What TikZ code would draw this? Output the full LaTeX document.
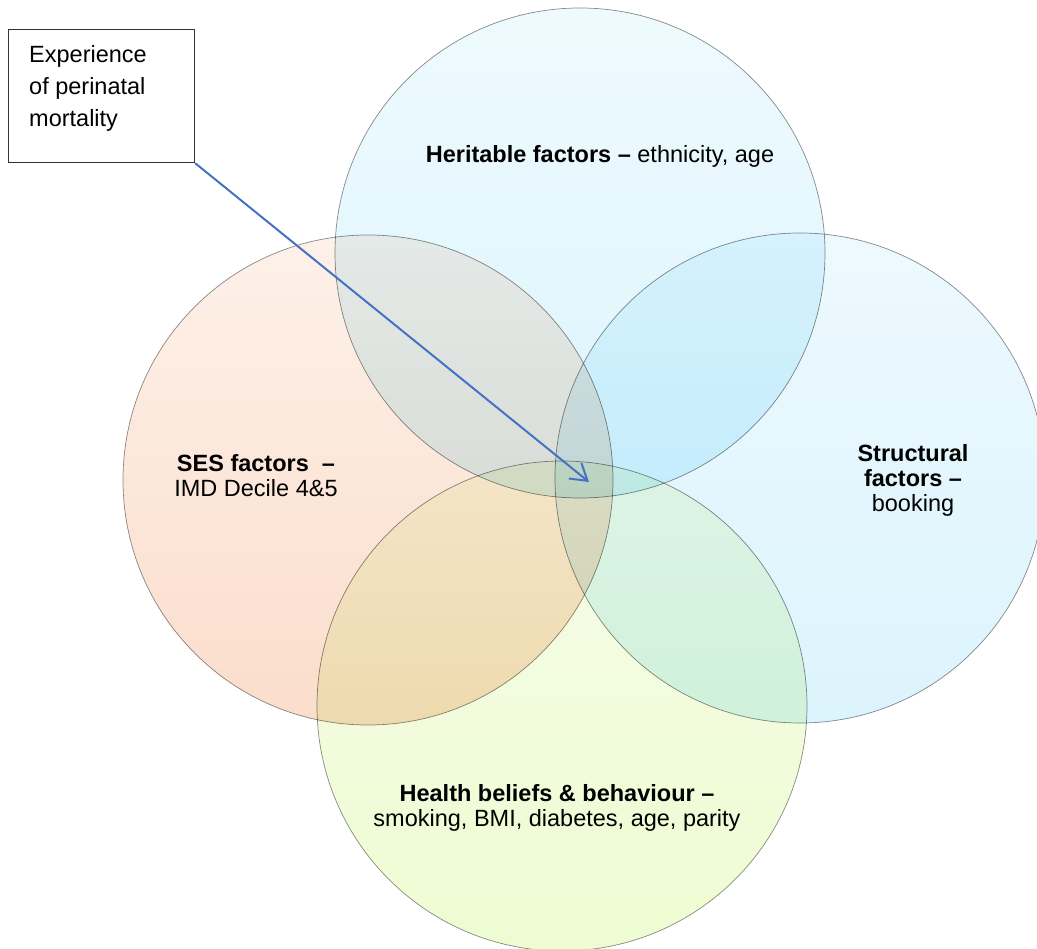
\documentclass[tikz,border=0pt]{standalone}
\usepackage{fontspec}
\setmainfont{Liberation Sans}
\usetikzlibrary{arrows.meta,positioning}

\definecolor{herTop}{RGB}{238,250,254}
\definecolor{herBot}{RGB}{220,245,253}
\definecolor{sesTop}{RGB}{253,241,233}
\definecolor{sesBot}{RGB}{251,221,203}
\definecolor{strTop}{RGB}{237,249,254}
\definecolor{strBot}{RGB}{220,244,253}
\definecolor{hbTop}{RGB}{246,252,232}
\definecolor{hbBot}{RGB}{238,252,210}
\definecolor{arrowblue}{RGB}{68,114,196}

\begin{document}
\begin{tikzpicture}[
  x=1pt, y=-1pt,
  font=\fontsize{23.5}{25}\selectfont,
  >={Straight Barb[length=16pt,width=20pt]},
  venn/.style={circle, draw=black!45, line width=0.7pt, minimum size=490pt, inner sep=0pt, blend mode=multiply},
  lbl/.style={align=center, inner sep=0pt},
  box/.style={draw=black!80, line width=1.2pt, minimum width=186pt, minimum height=133pt, anchor=north west, inner sep=0pt},
  link/.style={draw=arrowblue, line width=2pt},
]
\useasboundingbox (0,0) rectangle (1037,949);

% the four circles
\node[venn, top color=herTop, bottom color=herBot] (her) at (580,253) {};
\node[venn, top color=sesTop, bottom color=sesBot] (ses) at (368,480) {};
\node[venn, top color=strTop, bottom color=strBot] (str) at (800,478) {};
\node[venn, top color=hbTop, bottom color=hbBot] (hb) at (562,706) {};

\node[lbl] (herlbl) at (600,156) {\textbf{Heritable factors –} ethnicity, age};
\node[lbl] (seslbl) at (256,476) {\textbf{SES factors \ –}\\IMD Decile 4\&5};
\node[lbl] (strlbl) at (913,480) {\textbf{Structural}\\\textbf{factors –}\\booking};
\node[lbl] (hblbl) at (557,808) {\textbf{Health beliefs \& behaviour –}\\smoking, BMI, diabetes, age, parity};

% callout
\node[box] (exp) at (8,29) {};
\node[anchor=north west, align=left, inner sep=0pt, font=\fontsize{23.5}{32}\selectfont] (exptxt) at ([xshift=21pt,yshift=-16pt]exp.north west) {Experience\\of perinatal\\mortality};

\coordinate (core) at (589,482);
\draw[link,->] (exp.south east) -- (core);
\end{tikzpicture}
\end{document}
